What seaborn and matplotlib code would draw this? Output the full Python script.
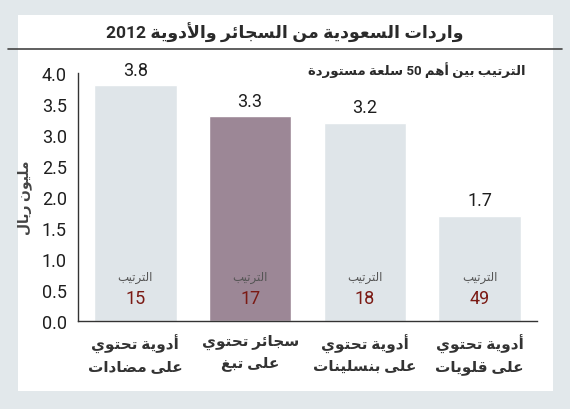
import re
import numpy as np
import seaborn as sns
import matplotlib.pyplot as plt
from matplotlib.patches import Rectangle
from matplotlib.lines import Line2D

# data
categories = ["أدوية تحتوي\nعلى مضادات", "سجائر تحتوي\nعلى تبغ",
              "أدوية تحتوي\nعلى بنسلينات", "أدوية تحتوي\nعلى قلويات"]
values = [3.8, 3.3, 3.2, 1.7]
ranks = [15, 17, 18, 49]
bar_colors = ["#dfe5e9", "#9c8796", "#dfe5e9", "#dfe5e9"]
title = "واردات السعودية من السجائر والأدوية 2012"
subtitle = "الترتيب بين أهم 50 سلعة مستوردة"
ylabel = "مليون ريال"
rank_word = "الترتيب"

# matplotlib has no arabic shaping -> presentation forms + reverse
FORMS = {'ا': (0xFE8D, 2), 'أ': (0xFE83, 2), 'د': (0xFEA9, 2), 'ر': (0xFEAD, 2),
         'و': (0xFEED, 2), 'ة': (0xFE93, 2), 'ى': (0xFEEF, 2),
         'ب': (0xFE8F, 4), 'ت': (0xFE95, 4), 'ج': (0xFE9D, 4), 'ح': (0xFEA1, 4),
         'س': (0xFEB1, 4), 'ض': (0xFEBD, 4), 'ع': (0xFEC9, 4), 'غ': (0xFECD, 4),
         'ق': (0xFED5, 4), 'ل': (0xFEDD, 4), 'م': (0xFEE1, 4), 'ن': (0xFEE5, 4),
         'ه': (0xFEE9, 4), 'ي': (0xFEF1, 4), 'ئ': (0xFE89, 4)}
LAM_ALEF = {'ا': 0xFEFB, 'أ': 0xFEF7}


def shape_line(s):
    toks = []
    i = 0
    while i < len(s):
        if s[i] == 'ل' and i + 1 < len(s) and s[i + 1] in LAM_ALEF:
            toks.append(('LA', s[i + 1]))
            i += 2
        else:
            toks.append(s[i])
            i += 1
    out = []
    for k, t in enumerate(toks):
        prev = toks[k - 1] if k > 0 else None
        nxt = toks[k + 1] if k + 1 < len(toks) else None
        joins_prev = (prev is not None and not isinstance(prev, tuple)
                      and prev in FORMS and FORMS[prev][1] == 4)
        if isinstance(t, tuple):
            out.append(chr(LAM_ALEF[t[1]] + (1 if joins_prev else 0)))
            continue
        if t not in FORMS:
            out.append(t)
            continue
        base, n = FORMS[t]
        joins_next = n == 4 and nxt is not None and (isinstance(nxt, tuple) or nxt in FORMS)
        if joins_prev and joins_next:
            f = 3
        elif joins_next:
            f = 2
        elif joins_prev:
            f = 1
        else:
            f = 0
        out.append(chr(base + f))
    vis = ''.join(out)[::-1]
    return re.sub(r'[0-9.]+', lambda m: m.group(0)[::-1], vis)


def ar(s):
    return '\n'.join(shape_line(line) for line in s.split('\n'))


sns.set_style("white")
plt.rcParams['font.family'] = ['Roboto', 'DejaVu Sans']
fam = ['Roboto', 'DejaVu Sans']

W, H = 570, 410
fig = plt.figure(figsize=(5.7, 4.1), dpi=100, facecolor="#e2e8eb")
fig.patches.append(Rectangle((18 / W, 1 - 392 / H), (553 - 18) / W, (392 - 16) / H,
                             transform=fig.transFigure, facecolor="white",
                             edgecolor="none", zorder=-5))
fig.lines.append(Line2D([8 / W, 562 / W], [1 - 50 / H, 1 - 50 / H],
                        transform=fig.transFigure, color="#444444", lw=1.2))
fig.text(285 / W, 1 - 33 / H, ar(title), ha="center", va="center",
         fontsize=12.5, fontweight="bold", color="#2a2a2a", family=fam)
fig.text(525 / W, 1 - 70 / H, ar(subtitle), ha="right", va="center",
         fontsize=9.5, fontweight="bold", color="#2a2a2a", family=fam)

ax = fig.add_axes([78 / W, 1 - 322 / H, (537 - 78) / W, (322 - 74) / H])
ax.set_facecolor("none")
pos = list(range(len(values)))
sns.barplot(x=pos, y=values, hue=pos, palette=bar_colors, width=0.72,
            legend=False, saturation=1, ax=ax)

for i, (v, r) in enumerate(zip(values, ranks)):
    ax.text(i, v + 0.1, f"{v:.1f}", ha="center", va="bottom", fontsize=13,
            color="#1e1e1e", family=fam)
    ax.text(i, 0.72, ar(rank_word), ha="center", va="center", fontsize=8.5,
            color="#555555", family=fam)
    ax.text(i, 0.37, str(r), ha="center", va="center", fontsize=13,
            color="#7b1a14", family=fam)

ax.set_xlim(-0.5, 3.5)
ax.set_ylim(0, 4)
ax.set_yticks(np.arange(0, 4.01, 0.5))
ax.set_yticklabels([f"{t:.1f}" for t in np.arange(0, 4.01, 0.5)], fontsize=13,
                   color="#1e1e1e")
ax.set_xticks(pos)
ax.set_xticklabels([ar(c) for c in categories], fontsize=11, fontweight="bold",
                   color="#333333", linespacing=1.6)
ax.set_xticks([0.5, 1.5, 2.5, 3.5], minor=True)
ax.tick_params(axis="x", which="major", length=0, pad=9)
ax.tick_params(axis="x", which="minor", direction="in", length=5, width=1,
               color="#333333")
ax.tick_params(axis="y", direction="out", length=5, width=1, color="#333333", pad=3)
ax.set_ylabel(ar(ylabel), fontsize=10, fontweight="bold", color="#444444")
ax.yaxis.set_label_coords(-0.10, 0.5)
for s in ["top", "right"]:
    ax.spines[s].set_visible(False)
for s in ["left", "bottom"]:
    ax.spines[s].set_color("#333333")
    ax.spines[s].set_linewidth(1)

fig.savefig("out.png", dpi=100, facecolor=fig.get_facecolor())
